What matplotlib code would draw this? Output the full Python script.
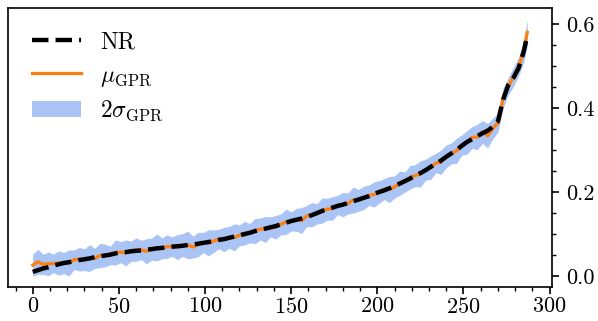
import matplotlib
matplotlib.use("Agg")
import matplotlib.pyplot as plt
import numpy as np
from matplotlib.ticker import MultipleLocator

plt.rcParams['font.family'] = 'serif'
plt.rcParams['font.serif'] = ['cmr10']
plt.rcParams['mathtext.fontset'] = 'cm'
plt.rcParams['axes.formatter.use_mathtext'] = True

# sample index (every 3rd point, last one is 287)
idx = list(range(0, 286, 3)) + [287]

# numerical relativity values
nr = [0.010, 0.014, 0.018, 0.021, 0.025, 0.028, 0.031, 0.033, 0.035, 0.038,
      0.040, 0.042, 0.045, 0.047, 0.049, 0.051, 0.054, 0.056, 0.057, 0.059,
      0.060, 0.061, 0.063, 0.064, 0.066, 0.067, 0.069, 0.070, 0.071, 0.072,
      0.074, 0.075, 0.077, 0.079, 0.081, 0.083, 0.086, 0.088, 0.091, 0.094,
      0.097, 0.100, 0.103, 0.107, 0.110, 0.113, 0.116, 0.119, 0.123, 0.127,
      0.131, 0.134, 0.137, 0.141, 0.145, 0.150, 0.155, 0.159, 0.163, 0.167,
      0.170, 0.174, 0.178, 0.182, 0.186, 0.190, 0.195, 0.200, 0.204, 0.209,
      0.214, 0.220, 0.226, 0.232, 0.239, 0.245, 0.252, 0.260, 0.267, 0.275,
      0.284, 0.292, 0.300, 0.310, 0.319, 0.326, 0.333, 0.340, 0.346, 0.355,
      0.368, 0.420, 0.455, 0.472, 0.495, 0.535, 0.572]

# GPR mean
mu = [0.026, 0.034, 0.028, 0.029, 0.030, 0.031, 0.031, 0.031, 0.039, 0.040,
      0.039, 0.043, 0.042, 0.049, 0.049, 0.049, 0.056, 0.057, 0.055, 0.059,
      0.063, 0.062, 0.059, 0.064, 0.068, 0.066, 0.070, 0.070, 0.069, 0.074,
      0.074, 0.069, 0.075, 0.080, 0.079, 0.083, 0.088, 0.087, 0.092, 0.092,
      0.097, 0.102, 0.102, 0.107, 0.112, 0.111, 0.117, 0.116, 0.123, 0.129,
      0.130, 0.134, 0.132, 0.143, 0.146, 0.148, 0.156, 0.159, 0.161, 0.169,
      0.170, 0.173, 0.181, 0.180, 0.186, 0.192, 0.194, 0.200, 0.207, 0.206,
      0.212, 0.221, 0.224, 0.235, 0.239, 0.243, 0.253, 0.258, 0.269, 0.271,
      0.285, 0.292, 0.298, 0.312, 0.318, 0.330, 0.331, 0.343, 0.334, 0.351,
      0.365, 0.424, 0.452, 0.474, 0.499, 0.535, 0.580]

# 2 sigma half width
sig2 = [0.026, 0.030, 0.024, 0.028, 0.022, 0.029, 0.025, 0.031, 0.023, 0.028,
        0.026, 0.032, 0.024, 0.029, 0.027, 0.022, 0.030, 0.025, 0.031, 0.024,
        0.028, 0.023, 0.030, 0.026, 0.032, 0.025, 0.028, 0.023, 0.030, 0.027,
        0.033, 0.026, 0.029, 0.024, 0.031, 0.027, 0.023, 0.029, 0.026, 0.032,
        0.025, 0.028, 0.023, 0.030, 0.026, 0.031, 0.024, 0.028, 0.025, 0.030,
        0.023, 0.027, 0.031, 0.025, 0.029, 0.024, 0.030, 0.026, 0.028, 0.023,
        0.029, 0.025, 0.031, 0.026, 0.028, 0.024, 0.030, 0.027, 0.025, 0.031,
        0.026, 0.029, 0.024, 0.028, 0.026, 0.031, 0.025, 0.028, 0.023, 0.029,
        0.027, 0.025, 0.030, 0.024, 0.028, 0.026, 0.030, 0.027, 0.029, 0.025,
        0.022, 0.024, 0.021, 0.023, 0.022, 0.026, 0.030]

x = np.array(idx)
mu = np.array(mu)
sig2 = np.array(sig2)

fig = plt.figure(figsize=(5.98, 3.21), dpi=100)
ax = fig.add_axes([0.0134, 0.106, 0.9096, 0.869])

ax.fill_between(x, mu - sig2, mu + sig2, color='#a9c4f5', lw=0, label=r'$2\sigma_{\rm GPR}$', zorder=1)
ax.plot(x, mu, color='#ff7f0e', lw=2.3, label=r'$\mu_{\rm GPR}$', zorder=2)
ax.plot(x, nr, color='black', lw=3.2, ls='--', label='NR', zorder=3)

ax.set_xlim(-14.35, 301.35)
ax.set_ylim(-0.026, 0.638)

ax.xaxis.set_major_locator(MultipleLocator(50))
ax.xaxis.set_minor_locator(MultipleLocator(10))
ax.yaxis.set_major_locator(MultipleLocator(0.2))
ax.yaxis.set_minor_locator(MultipleLocator(0.05))
ax.yaxis.tick_right()
ax.yaxis.set_major_formatter(matplotlib.ticker.FormatStrFormatter('%.1f'))
ax.tick_params(which='major', length=5, width=1.2, labelsize=16)
ax.tick_params(axis='y', which='major', pad=5)
ax.tick_params(axis='x', which='major', pad=2)
ax.tick_params(which='minor', length=3, width=1)
for s in ax.spines.values():
    s.set_linewidth(1.2)

h, l = ax.get_legend_handles_labels()
ax.legend([h[2], h[1], h[0]], [l[2], l[1], l[0]], loc='upper left', frameon=False,
          fontsize=17, handlelength=2.1, labelspacing=0.45, borderaxespad=0.6)

fig.savefig('out.png', dpi=100)
